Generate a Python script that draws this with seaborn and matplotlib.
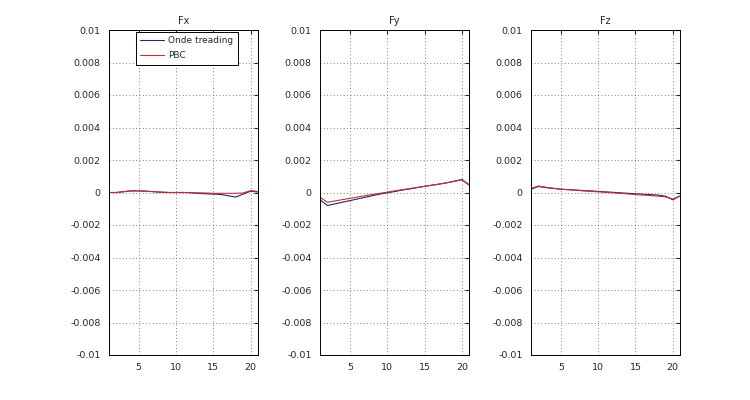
import numpy as np
import pandas as pd
import matplotlib
matplotlib.use("Agg")
import matplotlib.pyplot as plt
import seaborn as sns

steps = list(range(1, 22))

fx_onde = [0, 0, 0.00005, 0.0001, 0.0001, 0.00008, 0.00005, 0.00002, 0, 0, 0,
           -0.00002, -0.00005, -0.00008, -0.0001, -0.00012, -0.0002, -0.00028, -0.0001, 0.00008, 0.00003]
fx_pbc = [0, 0, 0.00005, 0.0001, 0.0001, 0.00008, 0.00005, 0.00002, 0, 0, 0,
          0, -0.00002, -0.00003, -0.00005, -0.00005, -0.00005, -0.00005, -0.00003, 0.00012, 0.00006]

fy_onde = [-0.00045, -0.0008, -0.0007, -0.0006, -0.0005, -0.0004, -0.0003, -0.0002, -0.0001, -0.00002, 0.00006,
           0.00015, 0.00022, 0.0003, 0.00038, 0.00045, 0.00052, 0.0006, 0.0007, 0.0008, 0.00045]
fy_pbc = [-0.0003, -0.0006, -0.00052, -0.00044, -0.00036, -0.00028, -0.0002, -0.00012, -0.00005, 0.00002, 0.0001,
          0.00017, 0.00024, 0.00031, 0.00038, 0.00045, 0.00052, 0.0006, 0.00068, 0.00078, 0.00048]

fz_onde = [0.0002, 0.00037, 0.0003, 0.00025, 0.0002, 0.00018, 0.00015, 0.00012, 0.0001, 0.00007, 0.00004,
           0.00001, -0.00002, -0.00005, -0.00008, -0.0001, -0.00013, -0.00016, -0.00022, -0.00045, -0.0002]
fz_pbc = [0.00025, 0.0004, 0.00032, 0.00026, 0.0002, 0.00017, 0.00014, 0.0001, 0.00007, 0.00004, 0.00001,
          -0.00002, -0.00005, -0.00009, -0.00013, -0.00016, -0.00019, -0.00022, -0.00027, -0.0004, -0.00022]

titles = ["Fx", "Fy", "Fz"]
methods = ["Onde treading", "PBC"]
yticks = [-0.01, -0.008, -0.006, -0.004, -0.002, 0, 0.002, 0.004, 0.006, 0.008, 0.01]
ytick_labels = ["-0.01", "-0.008", "-0.006", "-0.004", "-0.002", "0", "0.002", "0.004", "0.006", "0.008", "0.01"]
xticks = [5, 10, 15, 20]

series = {"Fx": (fx_onde, fx_pbc), "Fy": (fy_onde, fy_pbc), "Fz": (fz_onde, fz_pbc)}
rows = []
for comp, (a, b) in series.items():
    for m, vals in zip(methods, (a, b)):
        for s, v in zip(steps, vals):
            rows.append({"comp": comp, "method": m, "step": s, "value": v})
df = pd.DataFrame(rows)

sns.set_style("white")
plt.rcParams["font.family"] = ["DejaVu Sans"]
palette = {"Onde treading": "#24246e", "PBC": "#b8323c"}

fig = plt.figure(figsize=(7.5, 4), dpi=100)
lefts = [0.145, 0.4267, 0.708]
for i, comp in enumerate(titles):
    ax = fig.add_axes([lefts[i], 0.1125, 0.199, 0.8125])
    sns.lineplot(data=df[df.comp == comp], x="step", y="value", hue="method",
                 palette=palette, linewidth=0.8, ax=ax, legend=(i == 0))
    ax.set_xlim(1, 21)
    ax.set_ylim(-0.01, 0.01)
    ax.set_xticks(xticks)
    ax.set_yticks(yticks)
    ax.set_yticklabels(ytick_labels)
    ax.set_xlabel("")
    ax.set_ylabel("")
    ax.set_title(comp, fontsize=7, pad=4)
    ax.grid(True, linestyle=(0, (1, 3)), color="#555555", linewidth=0.6)
    ax.tick_params(direction="in", labelsize=6.8, length=3, top=True, right=True, pad=6)
    for sp in ax.spines.values():
        sp.set_color("black")
        sp.set_linewidth(0.7)
    if i == 0:
        leg = ax.legend(loc="upper left", bbox_to_anchor=(0.18, 0.995), fontsize=6.5,
                        frameon=True, fancybox=False, edgecolor="black", framealpha=1,
                        borderaxespad=0, handlelength=2.6, handletextpad=0.5,
                        borderpad=0.5, labelspacing=0.7)
        leg.get_frame().set_linewidth(0.7)

fig.savefig("out.png", dpi=100)
